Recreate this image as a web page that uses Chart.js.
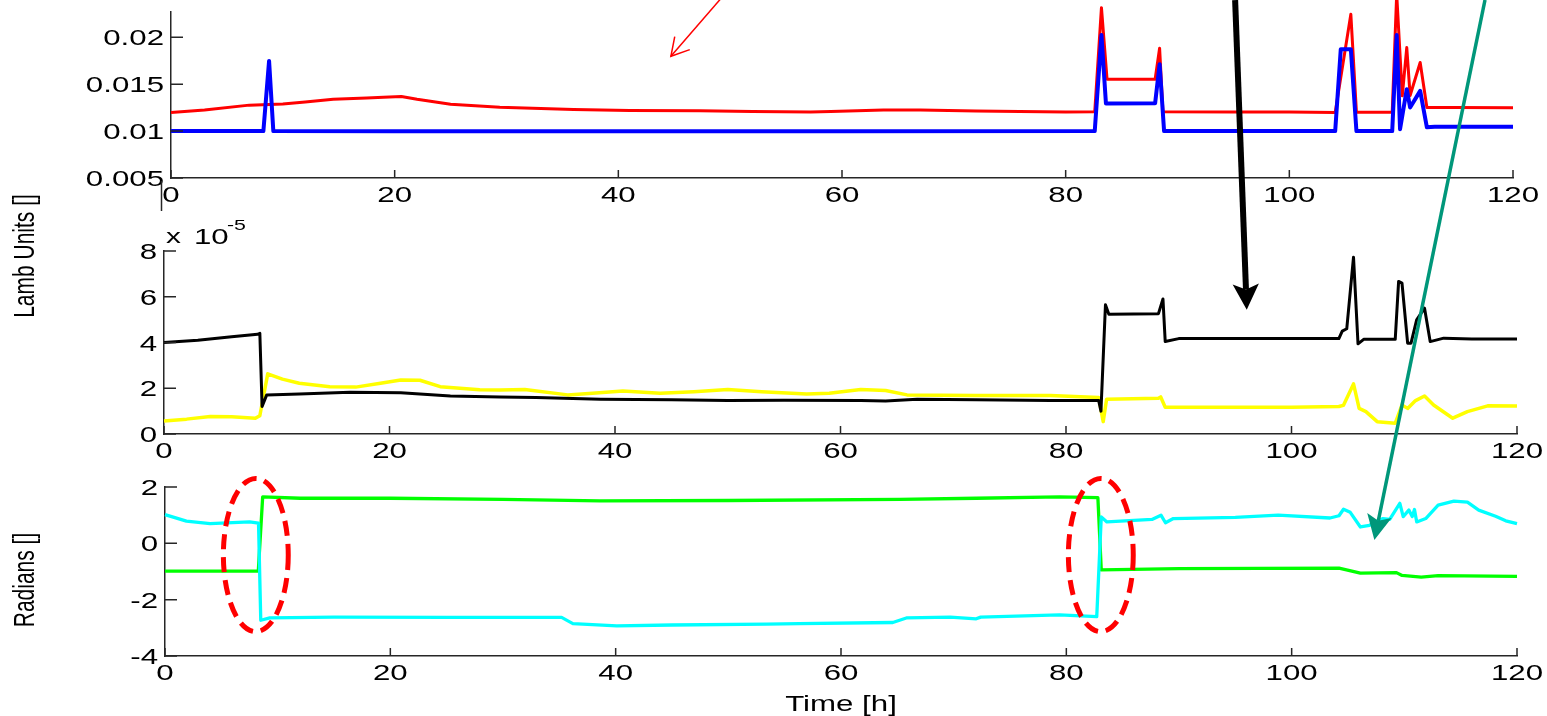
<!DOCTYPE html>
<html>
<head>
<meta charset="utf-8">
<script src="https://cdn.jsdelivr.net/npm/chart.js@4.4.1/dist/chart.umd.min.js"></script>
<style>
  html, body { margin: 0; padding: 0; background: #fff; }
  #wrap { position: relative; width: 1547px; height: 716px; overflow: hidden; background: #fff; }
  #wrap canvas { position: absolute; left: 0; top: 0; }
</style>
</head>
<body>
<div id="wrap">
  <canvas id="topPanel" width="1547" height="716"></canvas>
  <canvas id="midPanel" width="1547" height="716"></canvas>
  <canvas id="lowPanel" width="1547" height="716"></canvas>
</div>
<script>
// shared time axis [h]
const timeTicks = [0, 20, 40, 60, 80, 100, 120];

// top panel
const topTicks = [0.005, 0.01, 0.015, 0.02];
const redT = [0, 3, 7, 10, 12, 14.5, 17.5, 19, 20.6, 22, 25, 29.4, 36, 41, 47.3, 52, 57.2, 59, 63.7, 67, 72, 75.9, 80,
  82.6, 83.2, 83.7, 88.0, 88.4, 88.7, 95, 100, 104.1, 105.5, 106.0, 109.2, 109.6, 110.1, 110.5, 110.8, 111.7, 112.3, 115, 120];
const redV = [0.01199, 0.01225, 0.01277, 0.0129, 0.0131, 0.0134, 0.01354, 0.0136, 0.01369, 0.0134, 0.01287, 0.01255,
  0.01231, 0.0122, 0.01216, 0.0121, 0.01205, 0.01208, 0.01226, 0.01225, 0.01215, 0.0121, 0.01205,
  0.01206, 0.02316, 0.01553, 0.01553, 0.01883, 0.01206, 0.01203, 0.01203, 0.01199, 0.02245, 0.012, 0.012,
  0.0246, 0.01376, 0.01891, 0.0138, 0.01731, 0.01252, 0.01252, 0.0125];
const blueT = [0, 8.26, 8.77, 9.15, 20, 40, 60, 82.6, 83.2, 83.6, 88.0, 88.4, 88.8, 100, 104.1, 104.6, 105.5, 106.0,
  109.2, 109.6, 109.9, 110.5, 110.8, 111.7, 112.3, 113, 120];
const blueV = [0.0100, 0.0100, 0.01748, 0.0100, 0.00998, 0.00998, 0.00998, 0.0100, 0.02025, 0.01295, 0.01297, 0.01713,
  0.0100, 0.0100, 0.0100, 0.01873, 0.01873, 0.0100, 0.0100, 0.02025, 0.0102, 0.01447, 0.01252, 0.01429, 0.0104,
  0.01046, 0.01046];

// middle panel, values in units of 1e-5
const midTicks = [0, 2, 4, 6, 8];
const blackT = [0, 3, 6, 8.3, 8.5, 8.7, 9.1, 12, 16.5, 21, 25.4, 29.8, 33, 38.7, 45, 50, 55, 61.8, 64, 66.8, 72, 78.6,
  82.9, 83.1, 83.5, 83.8, 88.2, 88.6, 88.8, 90, 95, 100, 104.2, 104.5, 104.9, 105.5, 105.9, 106.4, 109.2, 109.5,
  109.8, 110.3, 110.6, 111.1, 111.8, 112.3, 113.5, 116, 120];
const blackV = [4.0, 4.1, 4.25, 4.36, 4.4, 1.2, 1.7, 1.75, 1.82, 1.8, 1.66, 1.62, 1.6, 1.52, 1.5, 1.46, 1.48, 1.46, 1.44,
  1.52, 1.5, 1.46, 1.46, 1.0, 5.65, 5.24, 5.26, 5.9, 4.04, 4.17, 4.18, 4.17, 4.17, 4.5, 4.6, 7.73, 3.94, 4.14, 4.14,
  6.67, 6.6, 3.97, 3.97, 4.99, 5.5, 4.04, 4.19, 4.15, 4.15];
const yellowT = [0, 2, 4.1, 6, 8.1, 8.5, 9.2, 10.5, 12, 14.7, 17, 19.2, 21, 22.7, 24.5, 28, 29.8, 32, 35.8, 38, 40.7, 44,
  47, 50, 53, 57, 59, 61.8, 64, 65.9, 72, 78.6, 82.9, 83.3, 83.6, 88.2, 88.4, 88.8, 95, 100, 104.2, 104.6, 105.5,
  106, 106.6, 107.6, 109.2, 109.8, 110.3, 111, 111.8, 112.6, 114.3, 115.6, 117.4, 120];
const yellowV = [0.57, 0.65, 0.76, 0.75, 0.69, 0.8, 2.63, 2.4, 2.22, 2.07, 2.05, 2.22, 2.36, 2.35, 2.07, 1.93, 1.92, 1.95,
  1.71, 1.78, 1.88, 1.78, 1.85, 1.95, 1.85, 1.75, 1.78, 1.95, 1.9, 1.71, 1.68, 1.68, 1.6, 0.54, 1.52, 1.56, 1.62,
  1.17, 1.17, 1.17, 1.2, 1.25, 2.19, 1.12, 0.98, 0.54, 0.47, 1.27, 1.12, 1.46, 1.66, 1.27, 0.69, 0.98, 1.23, 1.22];

// bottom panel [rad]
const lowTicks = [-4, -2, 0, 2];
const greenT = [0, 8.28, 8.67, 12, 20, 30, 38.6, 50, 65.2, 72, 79.4, 82.8, 83.1, 90, 104.2, 106.1, 109.3, 109.8, 111.5,
  113, 120];
const greenV = [-0.99, -0.99, 1.65, 1.6, 1.6, 1.56, 1.51, 1.52, 1.56, 1.6, 1.65, 1.62, -0.94, -0.9, -0.88, -1.06, -1.04,
  -1.14, -1.2, -1.15, -1.17];
const cyanT = [0, 1.9, 4, 7.5, 8.3, 8.5, 9.3, 15, 25, 34.2, 35.2, 36.2, 40.1, 45, 53.4, 56.3, 64.6, 65.8, 69.7, 72, 72.4,
  79.4, 82.7, 83.1, 83.6, 87.6, 88.4, 88.8, 89.5, 95, 98.8, 103.4, 104.2, 104.6, 105.2, 106.1, 106.9, 108.1, 108.7,
  109.6, 109.9, 110.4, 110.7, 110.9, 111.1, 111.9, 113, 114.4, 115.6, 116.6, 118.1, 119, 120];
const cyanV = [1.02, 0.79, 0.7, 0.76, 0.72, -2.73, -2.65, -2.62, -2.63, -2.63, -2.63, -2.85, -2.93, -2.9, -2.87, -2.85,
  -2.81, -2.65, -2.62, -2.68, -2.62, -2.54, -2.6, 0.94, 0.76, 0.85, 1.0, 0.73, 0.88, 0.92, 1.0, 0.9, 0.98, 1.21, 1.1,
  0.58, 0.64, 0.88, 0.85, 1.42, 0.95, 1.18, 0.95, 1.2, 0.76, 0.88, 1.36, 1.5, 1.46, 1.18, 0.96, 0.8, 0.7];

// callouts, in the data units of the panel they are drawn on: [tailX, tailY, tipX, tipY]
const redCallout = [49.1, 0.02404, 44.7, 0.01798];
const blackCallout = [95.0, 18.97, 96.03, 5.43];
const tealCallout = [117.16, 19.29, 107.34, 0.117];
// dashed rings round the phase jumps: [centreX, centreY, radiusX, radiusY]
const rings = [[8.06, -0.415, 2.88, 2.72], [83.06, -0.415, 2.88, 2.72]];

const FONT = '"Liberation Sans", Arial, Helvetica, sans-serif';
const STRETCH = 1.42;   // the figure is wider than it is tall, text too
const INK = '#262626';

function pts(t, v) { return t.map((x, i) => ({ x: x, y: v[i] })); }

function wideText(ctx, text, x, y, o) {
  ctx.save();
  ctx.translate(x, y);
  ctx.scale(STRETCH, 1);
  if (o.rotate) ctx.rotate(o.rotate);
  ctx.font = o.font;
  ctx.fillStyle = o.color || '#000';
  ctx.textAlign = o.align || 'left';
  ctx.textBaseline = o.baseline || 'alphabetic';
  ctx.fillText(text, 0, 0);
  ctx.restore();
}

function arrow(ctx, x0, y0, x1, y1, s) {
  const ang = Math.atan2(y1 - y0, x1 - x0);
  const a1 = ang + Math.PI - s.half, a2 = ang + Math.PI + s.half;
  const h1 = [x1 + s.head * Math.cos(a1), y1 + s.head * Math.sin(a1)];
  const h2 = [x1 + s.head * Math.cos(a2), y1 + s.head * Math.sin(a2)];
  const back = s.filled ? s.head * 0.7 : 0;
  const bx = x1 - back * Math.cos(ang), by = y1 - back * Math.sin(ang);
  ctx.save();
  ctx.strokeStyle = s.color;
  ctx.fillStyle = s.color;
  ctx.lineWidth = s.width;
  ctx.lineCap = 'butt';
  ctx.beginPath();
  ctx.moveTo(x0, y0);
  ctx.lineTo(s.filled ? bx : x1, s.filled ? by : y1);
  ctx.stroke();
  ctx.beginPath();
  if (s.filled) {
    ctx.moveTo(x1, y1);
    ctx.lineTo(h1[0], h1[1]);
    ctx.lineTo(bx, by);
    ctx.lineTo(h2[0], h2[1]);
    ctx.closePath();
    ctx.fill();
  } else {
    ctx.moveTo(h1[0], h1[1]);
    ctx.lineTo(x1, y1);
    ctx.lineTo(h2[0], h2[1]);
    ctx.stroke();
  }
  ctx.restore();
}

function calloutOn(chart, c, s) {
  const { x, y } = chart.scales;
  arrow(chart.ctx, x.getPixelForValue(c[0]), y.getPixelForValue(c[1]),
    x.getPixelForValue(c[2]), y.getPixelForValue(c[3]), s);
}

// inward MATLAB-style ticks, tick labels and per-panel extras
function axesPlugin(yFormat, extra) {
  return {
    id: 'matlabAxes',
    afterDraw(chart) {
      const { ctx, chartArea: a, scales: { x, y } } = chart;
      ctx.save();
      ctx.strokeStyle = INK;
      ctx.lineWidth = 1.5;
      ctx.beginPath();
      x.ticks.forEach(t => {
        const px = x.getPixelForValue(t.value);
        ctx.moveTo(px, a.bottom);
        ctx.lineTo(px, a.bottom - 8);
      });
      y.ticks.forEach(t => {
        const py = y.getPixelForValue(t.value);
        ctx.moveTo(a.left, py);
        ctx.lineTo(a.left + 12, py);
      });
      ctx.stroke();
      ctx.restore();
      const f = '22px ' + FONT;
      x.ticks.forEach(t => wideText(ctx, String(t.value), x.getPixelForValue(t.value), a.bottom + 24,
        { font: f, align: 'center' }));
      y.ticks.forEach(t => wideText(ctx, yFormat(t.value), a.left - 7, y.getPixelForValue(t.value) + 8,
        { font: f, align: 'right' }));
      if (extra) extra(chart);
    }
  };
}

function scalesFor(yMin, yMax, yTicks) {
  const common = {
    type: 'linear',
    ticks: { display: false },
    grid: { drawOnChartArea: false, drawTicks: false },
    border: { color: INK, width: 1.5 }
  };
  return {
    x: Object.assign({}, common, {
      min: 0, max: 120, position: 'bottom',
      afterBuildTicks: s => { s.ticks = timeTicks.map(v => ({ value: v })); },
      afterFit: s => { s.height = 0; }
    }),
    y: Object.assign({}, common, {
      min: yMin, max: yMax, position: 'left',
      afterBuildTicks: s => { s.ticks = yTicks.map(v => ({ value: v })); },
      afterFit: s => { s.width = 0; }
    })
  };
}

function line(data, color, width, order) {
  return {
    data: data, borderColor: color, backgroundColor: color, borderWidth: width,
    pointRadius: 0, tension: 0, fill: false, clip: false, order: order, borderJoinStyle: 'round'
  };
}

function panel(id, area, datasets, scales, plugin) {
  return new Chart(document.getElementById(id), {
    type: 'line',
    data: { datasets: datasets },
    options: {
      responsive: false, animation: false, devicePixelRatio: 1,
      layout: { padding: { left: area[0], top: area[1], right: 1547 - area[2], bottom: 716 - area[3] } },
      plugins: { legend: { display: false }, tooltip: { enabled: false } },
      events: [],
      scales: scales
    },
    plugins: [plugin]
  });
}

panel('topPanel', [171, 12, 1513, 178],
  [line(pts(blueT, blueV), '#0000ff', 4, 0), line(pts(redT, redV), '#ff0000', 3, 1)],
  scalesFor(0.005, 0.0227, topTicks),
  axesPlugin(v => String(v), chart => {
    const ctx = chart.ctx;
    ctx.save();
    ctx.strokeStyle = INK;
    ctx.lineWidth = 1.5;
    ctx.beginPath();
    ctx.moveTo(161.5, 181);
    ctx.lineTo(161.5, 211);
    ctx.stroke();
    ctx.restore();
    calloutOn(chart, redCallout, { color: '#ff0000', width: 1.5, head: 20, half: 0.52, filled: false });
  }));

panel('midPanel', [164, 251, 1517, 434],
  [line(pts(blackT, blackV), '#000000', 3, 0), line(pts(yellowT, yellowV), '#ffff00', 3.5, 1)],
  scalesFor(0, 8, midTicks),
  axesPlugin(v => String(v), chart => {
    const { ctx, chartArea: a } = chart;
    wideText(ctx, 'x', a.left + 2, a.top - 8, { font: '21px ' + FONT });
    wideText(ctx, '10', a.left + 30, a.top - 7, { font: '22px ' + FONT });
    wideText(ctx, '-5', a.left + 63, a.top - 21, { font: '15px ' + FONT });
    wideText(ctx, 'Lamb Units []', 26, 256,
      { font: '21px ' + FONT, align: 'center', baseline: 'middle', rotate: -Math.PI / 2 });
    calloutOn(chart, blackCallout, { color: '#000000', width: 6, head: 29, half: 0.47, filled: true });
  }));

panel('lowPanel', [165, 487, 1517, 656],
  [line(pts(cyanT, cyanV), '#00ffff', 3.3, 0), line(pts(greenT, greenV), '#00ff00', 3.3, 1)],
  scalesFor(-4, 2, lowTicks),
  axesPlugin(v => String(v), chart => {
    const { ctx, chartArea: a, scales: { x, y } } = chart;
    wideText(ctx, 'Radians []', 26, 580,
      { font: '21px ' + FONT, align: 'center', baseline: 'middle', rotate: -Math.PI / 2 });
    wideText(ctx, 'Time [h]', (a.left + a.right) / 2, a.bottom + 55, { font: '22px ' + FONT, align: 'center' });
    ctx.save();
    ctx.strokeStyle = '#ff0000';
    ctx.lineWidth = 5;
    ctx.setLineDash([15, 8]);
    rings.forEach(r => {
      const cx = x.getPixelForValue(r[0]), cy = y.getPixelForValue(r[1]);
      const rx = Math.abs(x.getPixelForValue(r[0] + r[2]) - cx);
      const ry = Math.abs(y.getPixelForValue(r[1] + r[3]) - cy);
      ctx.beginPath();
      ctx.ellipse(cx, cy, rx, ry, 0, 0, Math.PI * 2);
      ctx.stroke();
    });
    ctx.restore();
    calloutOn(chart, tealCallout, { color: '#00977a', width: 3.5, head: 28, half: 0.46, filled: true });
  }));
</script>
</body>
</html>
